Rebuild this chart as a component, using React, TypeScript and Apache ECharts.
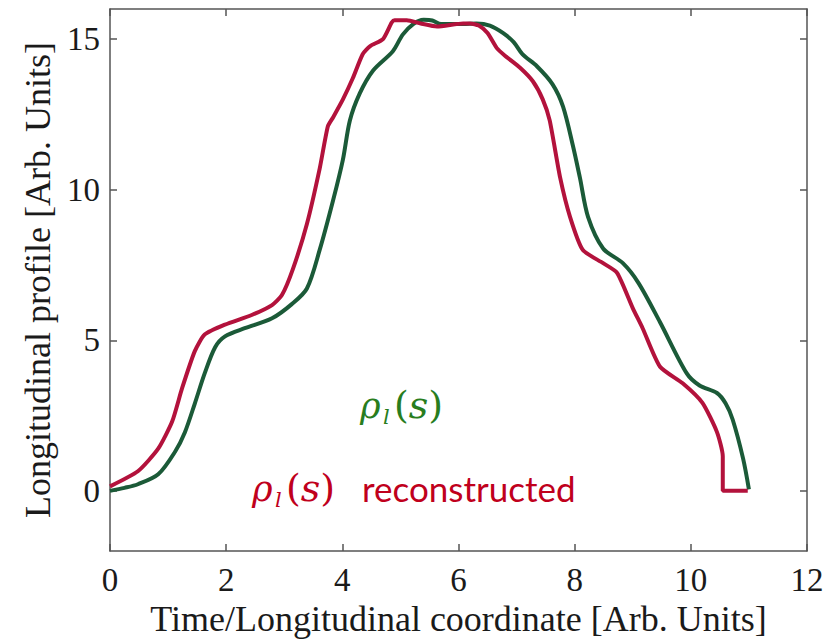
import React, { useEffect, useRef } from "react";
import * as echarts from "echarts";

const xTickValues = [0, 2, 4, 6, 8, 10, 12];
const yTickValues = [0, 5, 10, 15];

const originalX = [0, 0.25, 0.48, 0.83, 1.12, 1.29, 1.46, 1.63, 1.81, 1.98, 2.32, 2.79, 3.13, 3.39, 3.61, 3.84, 4.01, 4.13, 4.3, 4.53, 4.87, 5.04, 5.22, 5.4, 5.55, 5.7, 6.08, 6.31, 6.54, 6.77, 6.95, 7.1, 7.35, 7.62, 7.8, 7.97, 8.09, 8.23, 8.49, 8.83, 9.1, 9.47, 9.93, 10.15, 10.45, 10.6, 10.72, 10.9, 11.0];
const originalY = [0, 0.1, 0.22, 0.55, 1.3, 1.95, 2.9, 3.9, 4.77, 5.13, 5.4, 5.73, 6.2, 6.72, 8.0, 9.64, 11.0, 12.3, 13.2, 13.96, 14.6, 15.15, 15.5, 15.64, 15.62, 15.5, 15.5, 15.52, 15.45, 15.2, 14.9, 14.5, 14.1, 13.5, 12.76, 11.46, 10.4, 9.1, 8.05, 7.56, 6.9, 5.6, 3.9, 3.5, 3.25, 2.9, 2.37, 1.07, 0.05];

const reconstructedX = [0, 0.48, 0.83, 1.07, 1.24, 1.46, 1.63, 1.98, 2.44, 2.79, 2.96, 3.15, 3.39, 3.61, 3.75, 3.84, 4.01, 4.18, 4.35, 4.48, 4.7, 4.85, 4.9, 5.11, 5.35, 5.63, 6.08, 6.2, 6.35, 6.5, 6.66, 6.8, 7.06, 7.28, 7.45, 7.57, 7.75, 7.92, 8.14, 8.49, 8.73, 9.0, 9.17, 9.47, 9.86, 10.2, 10.45, 10.55, 10.55, 10.98];
const reconstructedY = [0.15, 0.65, 1.4, 2.3, 3.4, 4.64, 5.19, 5.52, 5.84, 6.17, 6.5, 7.37, 8.86, 10.7, 12.1, 12.4, 13.0, 13.7, 14.5, 14.77, 15.0, 15.55, 15.63, 15.63, 15.52, 15.42, 15.52, 15.52, 15.45, 15.2, 14.7, 14.45, 14.05, 13.6, 13.0, 12.3, 10.4, 9.1, 8.0, 7.56, 7.24, 6.07, 5.4, 4.12, 3.57, 2.92, 1.95, 1.15, 0, 0];

const GREEN_LINE = "#1b5a38";
const RED_LINE = "#b3123c";
const GREEN_TEXT = "#287d1e";
const RED_TEXT = "#c0001c";
const AXIS = "#555555";
const SERIF = "'Liberation Serif', 'Times New Roman', serif";
const MATH = "'DejaVu Serif', serif";

function zip(xs: number[], ys: number[]) {
  return xs.map((x, i) => [x, ys[i]]);
}

function mathLabel(x0: number, baseline: number, color: string, fs: number) {
  const c = baseline - 0.36 * fs;
  const subFs = 21;
  const pfs = fs + 3;
  return [
    {
      type: "text", x: x0, y: c,
      style: { text: "ρ", font: `italic ${fs}px ${MATH}`, fill: color, verticalAlign: "middle", align: "left" },
    },
    {
      type: "text", x: x0 + 23, y: baseline + 6 - 0.36 * subFs,
      style: { text: "l", font: `italic ${subFs}px ${MATH}`, fill: color, verticalAlign: "middle", align: "left" },
    },
    {
      type: "text", x: x0 + 34, y: baseline - 0.36 * pfs,
      style: {
        text: "{p|(}{i|s}{p|)}", fill: color, verticalAlign: "middle", align: "left",
        rich: {
          p: { font: `${pfs}px ${MATH}`, fill: color },
          i: { font: `italic ${pfs}px ${MATH}`, fill: color },
        },
      },
    },
  ];
}

export default function App() {
  const ref = useRef<HTMLDivElement>(null);
  useEffect(() => {
    if (!ref.current) return;
    const chart = echarts.init(ref.current, null, { renderer: "svg" });
    const tickStyle = { show: true, inside: true, length: 7, lineStyle: { color: AXIS, width: 1.5 } };
    const lineStyleAxis = { show: true, onZero: false, lineStyle: { color: AXIS, width: 1.5 } };
    const labelStyle = { fontFamily: SERIF, fontSize: 33, color: "#1a1a1a" };
    chart.setOption({
      animation: false,
      backgroundColor: "#ffffff",
      grid: { left: 110, right: 28, top: 9, bottom: 79, containLabel: false },
      xAxis: [
        {
          type: "value", min: 0, max: 12, interval: 2, position: "bottom",
          axisLine: lineStyleAxis, axisTick: tickStyle,
          axisLabel: { ...labelStyle, margin: 12, customValues: xTickValues },
          splitLine: { show: false },
          name: "Time/Longitudinal coordinate [Arb. Units]", nameLocation: "middle", nameGap: 38,
          nameTextStyle: { fontFamily: SERIF, fontSize: 36, color: "#1a1a1a" },
        },
        {
          type: "value", min: 0, max: 12, interval: 2, position: "top",
          axisLine: lineStyleAxis, axisTick: tickStyle, axisLabel: { show: false }, splitLine: { show: false },
        },
      ],
      yAxis: [
        {
          type: "value", min: -2, max: 16, position: "left",
          axisLine: lineStyleAxis,
          axisTick: { ...tickStyle, customValues: yTickValues },
          axisLabel: { ...labelStyle, margin: 10, customValues: yTickValues },
          splitLine: { show: false },
          name: "Longitudinal profile [Arb. Units]", nameLocation: "middle", nameGap: 54, nameRotate: 90,
          nameTextStyle: { fontFamily: SERIF, fontSize: 36, color: "#1a1a1a" },
        },
        {
          type: "value", min: -2, max: 16, position: "right",
          axisLine: lineStyleAxis,
          axisTick: { ...tickStyle, customValues: yTickValues },
          axisLabel: { show: false }, splitLine: { show: false },
        },
      ],
      series: [
        {
          type: "line", name: "original", data: zip(originalX, originalY), showSymbol: false,
          lineStyle: { color: GREEN_LINE, width: 4 }, itemStyle: { color: GREEN_LINE }, smooth: 0.3,
        },
        {
          type: "line", name: "reconstructed", data: zip(reconstructedX, reconstructedY), showSymbol: false,
          lineStyle: { color: RED_LINE, width: 4 }, itemStyle: { color: RED_LINE }, smooth: 0.2,
        },
      ],
      graphic: [
        ...mathLabel(360, 419, GREEN_TEXT, 35),
        ...mathLabel(252, 502, RED_TEXT, 35),
        {
          type: "text", x: 362, y: 502 - 0.387 * 35,
          style: { text: "reconstructed", font: `35px Lato, 'Open Sans', sans-serif`, fill: RED_TEXT, verticalAlign: "middle", align: "left" },
        },
      ],
    });
    return () => chart.dispose();
  }, []);
  return <div ref={ref} style={{ position: "absolute", left: 0, top: 0, width: 835, height: 642 }} />;
}
